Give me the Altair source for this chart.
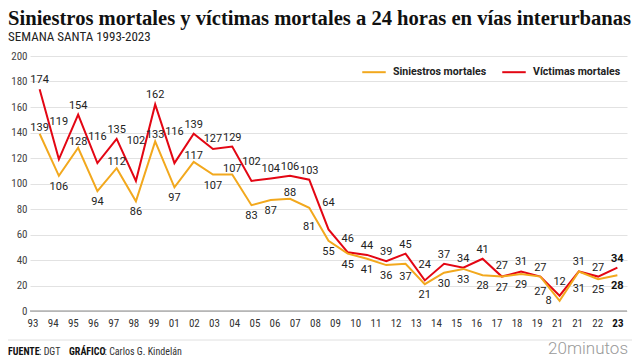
import altair as alt
import pandas as pd

# ---------------- data ----------------
years = list(range(1993, 2024))  # 31 editions plotted
axis_labels = ["93", "94", "95", "96", "97", "98", "99", "01", "02", "03", "04",
               "05", "06", "07", "08", "09", "10", "11", "12", "13", "14", "15",
               "16", "17", "18", "19", "21", "21", "22", "23"]
siniestros = [139, 106, 128, 94, 112, 86, 133, 97, 117, 107, 107, 83, 87, 88, 81,
              55, 45, 41, 36, 37, 21, 30, 33, 28, 27, 29, 27, 8, 31, 25, 28]
victimas = [174, 119, 154, 116, 135, 102, 162, 116, 139, 127, 129, 102, 104, 106, 103,
            64, 46, 44, 39, 45, 24, 37, 34, 41, 27, 31, 27, 12, 31, 27, 34]
series_names = ["Siniestros mortales", "Víctimas mortales"]
series_colors = ["#F2A81D", "#E30613"]
y_ticks = [0, 20, 40, 60, 80, 100, 120, 140, 160, 180, 200]

title_txt = "Siniestros mortales y víctimas mortales a 24 horas en vías interurbanas"
subtitle_txt = "SEMANA SANTA 1993-2023"

# ---------------- layout ----------------
W, H = 597, 255
K = H / 200.0  # px per unit
NARROW = "Liberation Sans Narrow, Roboto Condensed, Arial Narrow, Roboto"
n = len(years)
last = n - 1

df_v = pd.DataFrame({"i": range(n), "year": years, "v": victimas, "serie": series_names[1]})
df_s = pd.DataFrame({"i": range(n), "year": years, "v": siniestros, "serie": series_names[0]})


def mids(vals, i):
    out = []
    if i > 0:
        out.append((vals[i] + vals[i - 1]) / 2)
    if i < len(vals) - 1:
        out.append((vals[i] + vals[i + 1]) / 2)
    return out


rows = []
for i in range(n):
    v = victimas[i]
    env = max([v] + mids(victimas, i))
    rows.append(dict(i=i, v=v, ly=max(v + 9 / K, env + 2 / K), mode="center"))
for i in range(n):
    s = siniestros[i]
    nb = [siniestros[j] for j in (i - 1, i + 1) if 0 <= j < n]
    peak = all(s >= x for x in nb)
    if peak and victimas[i] - s >= 18:
        ly, mode = s + 6 / K, "center"
    else:
        env = min([s] + mids(siniestros, i))
        ly, mode = min(s - 11 / K, env - 3 / K), "center"
        if ly < 6 / K:
            ly, mode = s, "left"
    rows.append(dict(i=i, v=s, ly=ly, mode=mode))
df_lab = pd.DataFrame(rows)

df_axis = pd.DataFrame({"k": range(len(axis_labels)), "lab": axis_labels})

yscale = alt.Scale(domain=[0, 200], nice=False)
yaxis = alt.Axis(values=y_ticks, grid=True, domain=False, ticks=False, labelPadding=3,
                 labelFont=NARROW, labelFontSize=11, labelColor="#444", title=None,
                 gridColor="#e2e2e2", gridWidth=1)
xscale = alt.Scale(type="point", padding=0.5)


def X():
    return alt.X("i:O", scale=xscale, axis=None)


def Y(field):
    return alt.Y(field, scale=yscale, axis=yaxis)


color = alt.Color("serie:N", scale=alt.Scale(domain=series_names, range=series_colors),
                  legend=alt.Legend(orient="none", legendX=331, legendY=3, direction="horizontal",
                                    title=None, symbolType="stroke", symbolSize=552,
                                    symbolStrokeWidth=2, labelFont="Roboto", labelFontSize=10.6,
                                    labelFontWeight="bold", labelColor="#222", labelOffset=6,
                                    columnPadding=11, padding=0))

zero = alt.Chart(pd.DataFrame({"z": [0]})).mark_rule(color="#8a8a8a", strokeWidth=1).encode(
    y=alt.datum(0, scale=yscale, axis=yaxis))

line_v = alt.Chart(df_v).mark_line(strokeWidth=2).encode(x=X(), y=Y("v:Q"), color=color)
line_s = alt.Chart(df_s).mark_line(strokeWidth=2).encode(x=X(), y=Y("v:Q"), color=color)

lab_base = alt.Chart(df_lab)
lab_center = lab_base.transform_filter(f"datum.mode == 'center' && datum.i < {last}").mark_text(
    font="Roboto", fontSize=11, color="#222", baseline="middle", align="center").encode(
    x=X(), y=Y("ly:Q"), text="v:Q")
lab_left = lab_base.transform_filter("datum.mode == 'left'").mark_text(
    font="Roboto", fontSize=11, color="#222", baseline="middle", align="right", dx=-8).encode(
    x=X(), y=Y("ly:Q"), text="v:Q")
lab_bold = lab_base.transform_filter(f"datum.mode == 'center' && datum.i == {last}").mark_text(
    font="Roboto", fontSize=11, fontWeight="bold", color="#111", baseline="middle",
    align="center").encode(x=X(), y=Y("ly:Q"), text="v:Q")

main = alt.layer(zero, line_v, line_s, lab_center, lab_left, lab_bold)

ax_scale = alt.Scale(type="point", padding=0.3, align=0.25)
nlab = len(axis_labels) - 1
ax_norm = alt.Chart(df_axis).transform_filter(f"datum.k < {nlab}").mark_text(
    font=NARROW, fontSize=11, color="#333", baseline="middle").encode(
    x=alt.X("k:O", scale=ax_scale, axis=None), y=alt.value(H + 13), text="lab:N")
ax_bold = alt.Chart(df_axis).transform_filter(f"datum.k == {nlab}").mark_text(
    font=NARROW, fontSize=11, fontWeight="bold", color="#111", baseline="middle").encode(
    x=alt.X("k:O", scale=ax_scale, axis=None), y=alt.value(H + 13), text="lab:N")
axis_layer = alt.layer(ax_norm, ax_bold)


def note(txt, x, y, **kw):
    return alt.Chart(pd.DataFrame({"t": [txt]})).mark_text(align="left", baseline="alphabetic", **kw).encode(
        x=alt.value(x), y=alt.value(y), text="t:N")


title = note(title_txt, -22, -31, font="Liberation Serif", fontSize=20.6, fontWeight="bold", color="#111")
subtitle = note(subtitle_txt, -22, -15, font=NARROW, fontSize=13, color="#222")
sep = alt.Chart(pd.DataFrame({"z": [0]})).mark_rule(color="#e0e0e0").encode(
    x=alt.value(-22), x2=alt.value(W + 5), y=alt.value(284))
f1 = note("FUENTE", -22, 299, font=NARROW, fontSize=10, fontWeight="bold", color="#111")
f2 = note(": DGT", 9, 299, font=NARROW, fontSize=10, color="#333")
f3 = note("GRÁFICO", 39, 299, font=NARROW, fontSize=10, fontWeight="bold", color="#111")
f4 = note(": Carlos G. Kindelán", 74.5, 299, font=NARROW, fontSize=10, color="#333")
brand = alt.Chart(pd.DataFrame({"t": ["20minutos"]})).mark_text(
    align="right", baseline="alphabetic", font="Roboto", fontSize=17, fontWeight=300, color="#9a9a9a").encode(
    x=alt.value(W + 1), y=alt.value(298), text="t:N")

chart = alt.layer(main, axis_layer, title, subtitle, sep, f1, f2, f3, f4, brand).resolve_scale(
    x="independent").properties(
    width=W, height=H,
    autosize=alt.AutoSizeParams(type="none"),
    padding={"left": 22, "top": 48, "right": 5, "bottom": 49},
).configure_view(stroke=None)

chart.save("out.html", embed_options={"renderer": "svg", "actions": False})
